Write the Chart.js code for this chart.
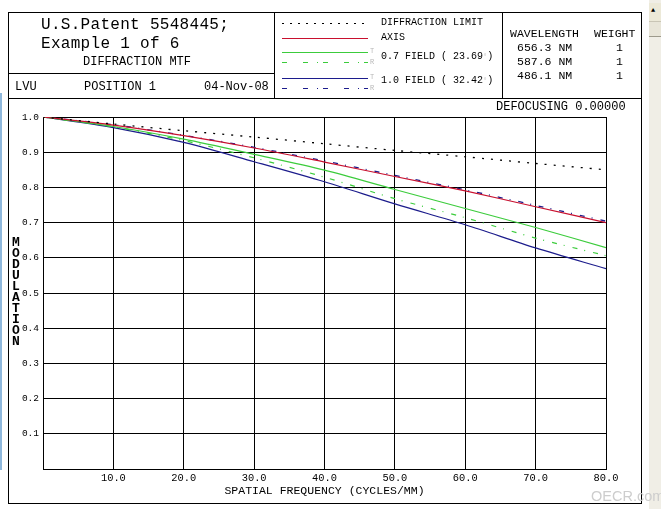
<!DOCTYPE html>
<html><head><meta charset="utf-8">
<script src="https://cdn.jsdelivr.net/npm/chart.js@4.4.0/dist/chart.umd.min.js"></script>
<style>
html,body{margin:0;padding:0;background:#fff;}
#wrap{position:relative;width:661px;height:509px;overflow:hidden;font-family:"Liberation Mono","DejaVu Sans Mono",monospace;color:#000;}
#c{position:absolute;left:0;top:0;}
.hl{position:absolute;height:0;border-top:1px solid #000;}
.vl{position:absolute;width:0;border-left:1px solid #000;}
.t{position:absolute;white-space:pre;line-height:1;}
.g{color:#b8b8b8;font-size:7px;}
</style></head>
<body><div id="wrap">
<canvas id="c" width="661" height="509"></canvas>

<!-- outer frame -->
<div class="hl" style="left:8px;top:12px;width:633px;"></div>
<div class="hl" style="left:8px;top:503px;width:633px;"></div>
<div class="vl" style="left:8px;top:12px;height:491px;"></div>
<div class="vl" style="left:641px;top:12px;height:492px;"></div>
<div class="hl" style="left:8px;top:98px;width:633px;"></div>
<div class="hl" style="left:8px;top:73px;width:266px;"></div>
<div class="vl" style="left:274px;top:12px;height:86px;"></div>
<div class="vl" style="left:502px;top:12px;height:86px;"></div>

<!-- title box -->
<div class="t" style="left:41px;top:17px;font-size:16px;letter-spacing:0.3px;">U.S.Patent 5548445;</div>
<div class="t" style="left:41px;top:36px;font-size:16px;letter-spacing:0.3px;">Example 1 of 6</div>
<div class="t" style="left:83px;top:56px;font-size:12px;">DIFFRACTION MTF</div>
<div class="t" style="left:15px;top:81px;font-size:12px;">LVU</div>
<div class="t" style="left:84px;top:81px;font-size:12px;">POSITION 1</div>
<div class="t" style="left:204px;top:81px;font-size:12px;">04-Nov-08</div>

<!-- legend box -->
<svg style="position:absolute;left:0;top:0;" width="661" height="100">
  <line x1="282" y1="23.5" x2="368" y2="23.5" stroke="#000" stroke-width="1.2" stroke-dasharray="2 6"/>
  <line x1="282" y1="38.5" x2="368" y2="38.5" stroke="#c8102e" stroke-width="1.2"/>
  <line x1="282" y1="52.5" x2="368" y2="52.5" stroke="#3ccc3c" stroke-width="1.2"/>
  <line x1="282" y1="62.5" x2="368" y2="62.5" stroke="#3ccc3c" stroke-width="1.2" stroke-dasharray="5 16 5 9 1 5"/>
  <line x1="282" y1="78.5" x2="368" y2="78.5" stroke="#1c1c8c" stroke-width="1.2"/>
  <line x1="282" y1="88.5" x2="368" y2="88.5" stroke="#1c1c8c" stroke-width="1.2" stroke-dasharray="5 16 5 9 1 5"/>
</svg>
<div class="t g" style="left:370px;top:48px;">T</div>
<div class="t g" style="left:370px;top:59px;">R</div>
<div class="t g" style="left:370px;top:74px;">T</div>
<div class="t g" style="left:370px;top:85px;">R</div>
<div class="t" style="left:381px;top:18px;font-size:10px;">DIFFRACTION LIMIT</div>
<div class="t" style="left:381px;top:33px;font-size:10px;">AXIS</div>
<div class="t" style="left:381px;top:52px;font-size:10px;">0.7 FIELD ( 23.69<span class="g">°</span>)</div>
<div class="t" style="left:381px;top:76px;font-size:10px;">1.0 FIELD ( 32.42<span class="g">°</span>)</div>

<!-- wavelength box -->
<div class="t" style="left:510px;top:28px;font-size:11.5px;">WAVELENGTH</div>
<div class="t" style="left:594px;top:28px;font-size:11.5px;">WEIGHT</div>
<div class="t" style="left:517px;top:42px;font-size:11.5px;">656.3 NM</div>
<div class="t" style="left:517px;top:56px;font-size:11.5px;">587.6 NM</div>
<div class="t" style="left:517px;top:70px;font-size:11.5px;">486.1 NM</div>
<div class="t" style="left:616px;top:42px;font-size:11.5px;">1</div>
<div class="t" style="left:616px;top:56px;font-size:11.5px;">1</div>
<div class="t" style="left:616px;top:70px;font-size:11.5px;">1</div>

<div class="t" style="left:496px;top:101px;font-size:12px;">DEFOCUSING 0.00000</div>

<!-- y axis title (stacked letters) -->
<div class="t" style="left:11px;top:237px;font-size:13px;line-height:11px;font-weight:bold;white-space:normal;width:10px;text-align:center;">M<br>O<br>D<br>U<br>L<br>A<br>T<br>I<br>O<br>N</div>

<!-- window artifacts -->
<div style="position:absolute;left:0;top:93px;width:2px;height:377px;background:#8fb8dc;"></div>
<div style="position:absolute;left:649px;top:0;width:12px;height:509px;background:#f0eee6;"></div>
<div style="position:absolute;left:649px;top:3px;width:12px;height:18px;background:#ece9d8;border-bottom:1px solid #c9c5b5;"></div>
<div class="t" style="left:651px;top:7px;font-size:7px;color:#000;">▲</div>
<div style="position:absolute;left:649px;top:22px;width:12px;height:14px;background:#e8e5d8;border-bottom:1px solid #9d9a8c;"></div>
<div class="t" style="left:591px;top:489px;font-size:14.5px;font-family:'Liberation Sans',Arial,sans-serif;color:#cdcdcd;">OECR.com</div>
</div>

<script>
const frequencies = [0, 10, 20, 30, 40, 50, 60, 70, 80];
const diffractionLimit = [1.000, 0.980, 0.961, 0.943, 0.924, 0.905, 0.887, 0.868, 0.850];
const axisMTF  = [1.000, 0.977, 0.947, 0.912, 0.872, 0.831, 0.790, 0.745, 0.700];
const field07T = [1.000, 0.973, 0.937, 0.894, 0.849, 0.794, 0.740, 0.686, 0.629];
const field07R = [1.000, 0.972, 0.933, 0.884, 0.829, 0.768, 0.714, 0.656, 0.606];
const field10T = [1.000, 0.970, 0.928, 0.873, 0.816, 0.753, 0.694, 0.628, 0.569];
const field10R = [1.000, 0.978, 0.948, 0.914, 0.875, 0.834, 0.793, 0.749, 0.704];
const xTickValues = [0, 10, 20, 30, 40, 50, 60, 70, 80];
const yTickValues = [0, 0.1, 0.2, 0.3, 0.4, 0.5, 0.6, 0.7, 0.8, 0.9, 1.0];

const pts = arr => frequencies.map((f, i) => ({x: f, y: arr[i]}));
const mono = "'Liberation Mono','DejaVu Sans Mono',monospace";
const dashDot = [5, 7, 1, 8];

new Chart(document.getElementById('c').getContext('2d'), {
  type: 'line',
  data: {
    datasets: [
      {label: 'DIFFRACTION LIMIT', data: pts(diffractionLimit), borderColor: '#000', borderWidth: 1.3, borderDash: [2, 7]},
      {label: 'AXIS', data: pts(axisMTF), borderColor: '#c8102e', borderWidth: 1.2},
      {label: '0.7 FIELD T', data: pts(field07T), borderColor: '#3ccc3c', borderWidth: 1.2},
      {label: '0.7 FIELD R', data: pts(field07R), borderColor: '#3ccc3c', borderWidth: 1.2, borderDash: dashDot},
      {label: '1.0 FIELD T', data: pts(field10T), borderColor: '#1c1c8c', borderWidth: 1.2},
      {label: '1.0 FIELD R', data: pts(field10R), borderColor: '#1c1c8c', borderWidth: 1.3, borderDash: dashDot}
    ]
  },
  options: {
    responsive: false,
    animation: false,
    layout: {padding: {left: 0, right: 55, top: 117, bottom: 6}},
    elements: {point: {radius: 0}, line: {tension: 0.3, fill: false}},
    plugins: {legend: {display: false}, tooltip: {enabled: false}},
    scales: {
      x: {
        type: 'linear', min: 0, max: 80,
        afterBuildTicks: s => { s.ticks = xTickValues.map(v => ({value: v})); },
        afterFit: s => { s.height = 34; },
        grid: {color: '#000', lineWidth: 1, drawTicks: false},
        border: {color: '#000', width: 1},
        ticks: {
          autoSkip: false, maxRotation: 0, padding: 3, color: '#000',
          font: {family: mono, size: 10.4},
          callback: v => v === 0 ? '' : Number(v).toFixed(1)
        },
        title: {display: true, text: 'SPATIAL FREQUENCY (CYCLES/MM)', color: '#000',
          font: {family: mono, size: 11.5}, padding: {top: 0, bottom: 5}}
      },
      y: {
        type: 'linear', min: 0, max: 1,
        afterBuildTicks: s => { s.ticks = yTickValues.map(v => ({value: v})); },
        afterFit: s => { s.width = 43; },
        grid: {color: '#000', lineWidth: 1, drawTicks: false},
        border: {color: '#000', width: 1},
        ticks: {
          padding: 4, color: '#000',
          font: {family: mono, size: 9.5},
          callback: v => v === 0 ? '' : Number(v).toFixed(1)
        }
      }
    }
  }
});
</script>
</body></html>
